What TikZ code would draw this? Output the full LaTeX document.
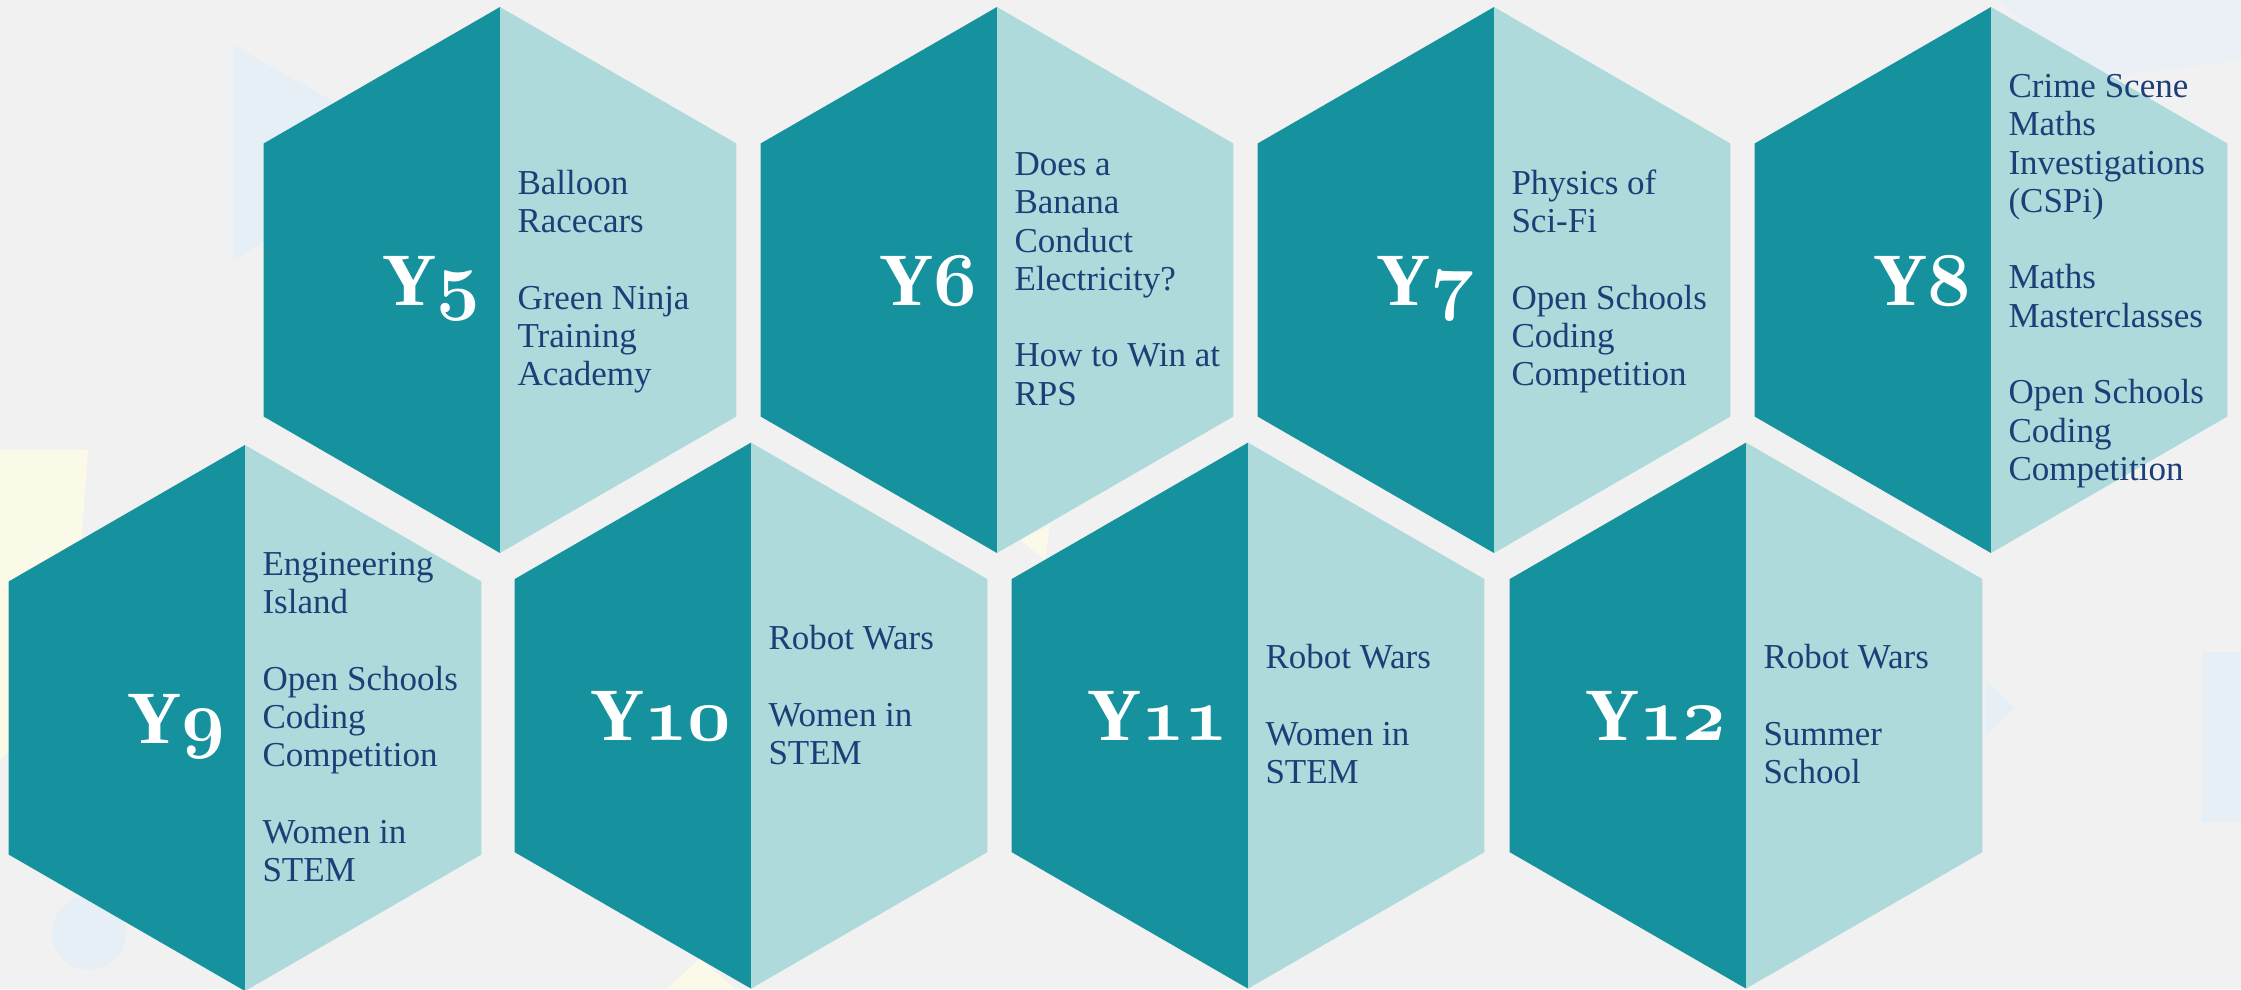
\documentclass[tikz,border=0pt]{standalone}
\usepackage{fontspec}
\usepackage{graphicx}
\setmainfont{Liberation Serif}
\definecolor{bg}{HTML}{F2F1F1}
\definecolor{tealdark}{HTML}{16929E}
\definecolor{teallight}{HTML}{AFDADB}
\definecolor{navy}{HTML}{1C3F78}
\definecolor{fblue}{HTML}{E7EFF6}
\definecolor{fyellow}{HTML}{FBF9E8}
\newcommand{\yrdig}[1]{\scalebox{1.22}{\fontencoding{OML}\fontfamily{cmm}\fontseries{b}\fontshape{it}\fontsize{24.88}{24.88}\selectfont #1}}
% #1 name, #2 cx, #3 cy, #4 digits, #5 first baseline y, #6 text
\newcommand{\hexcell}[6]{%
  \fill[tealdark] (#2,#3-273) -- (#2-236.4,#3-136.5) -- (#2-236.4,#3+136.5) -- (#2,#3+273) -- cycle;
  \fill[teallight] (#2,#3-273) -- (#2+236.4,#3-136.5) -- (#2+236.4,#3+136.5) -- (#2,#3+273) -- cycle;
  \node[yrlabel, anchor=base east] (#1-lab) at (#2-19,#3+25) {Y\yrdig{#4}};
  \node[itemtxt, anchor=north west] (#1-txt) at (#2+17,#5-30) {\rule{0pt}{12pt}#6};
}
\begin{document}
\begin{tikzpicture}[x=0.4pt,y=-0.4pt,
  yrlabel/.style={text=white, inner sep=0pt, font=\fontsize{30}{30}\selectfont\bfseries},
  itemtxt/.style={text=navy, inner sep=0pt, align=left, font=\fontsize{14}{15.32}\selectfont}]
\useasboundingbox (0,0) rectangle (2241,989);
\clip (0,0) rectangle (2241,989);
\fill[bg] (0,0) rectangle (2241,989);
% faint background decorations
\fill[fblue] (233,45) -- (420,150) -- (233,260) -- cycle;
\fill[fyellow] (0,450) -- (88,450) -- (80,560) -- (60,700) -- (0,760) -- cycle;
\fill[fblue] (89,933) circle (37);
\fill[fblue] (2202,652) rectangle (2241,822);
\fill[fblue] (1985,680) -- (2015,708) -- (1985,736) -- cycle;
\fill[fblue!70!bg] (2000,0) -- (2241,0) -- (2241,60) -- (2080,80) -- cycle;
\fill[fyellow] (667,989) -- (700,958) -- (735,989) -- cycle;
\fill[fyellow] (1020,540) -- (1050,525) -- (1045,560) -- cycle;
% row 1
\hexcell{y5}{500}{280}{5}{194}{Balloon\\Racecars\\[15.3pt]Green Ninja\\Training\\Academy}
\hexcell{y6}{997}{280}{6}{175}{Does a\\Banana\\Conduct\\Electricity?\\[15.3pt]How to Win at\\RPS}
\hexcell{y7}{1494}{280}{7}{194}{Physics of\\Sci-Fi\\[15.3pt]Open Schools\\Coding\\Competition}
\hexcell{y8}{1991}{280}{8}{97}{Crime Scene\\Maths\\Investigations\\(CSPi)\\[15.3pt]Maths\\Masterclasses\\[15.3pt]Open Schools\\Coding\\Competition}
% row 2
\hexcell{y9}{245}{718}{9}{575}{Engineering\\Island\\[15.3pt]Open Schools\\Coding\\Competition\\[15.3pt]Women in\\STEM}
\hexcell{y10}{751}{715.6}{10}{649}{Robot Wars\\[15.3pt]Women in\\STEM}
\hexcell{y11}{1248}{715.6}{11}{668}{Robot Wars\\[15.3pt]Women in\\STEM}
\hexcell{y12}{1746}{715.6}{12}{668}{Robot Wars\\[15.3pt]Summer\\School}
\end{tikzpicture}
\end{document}
